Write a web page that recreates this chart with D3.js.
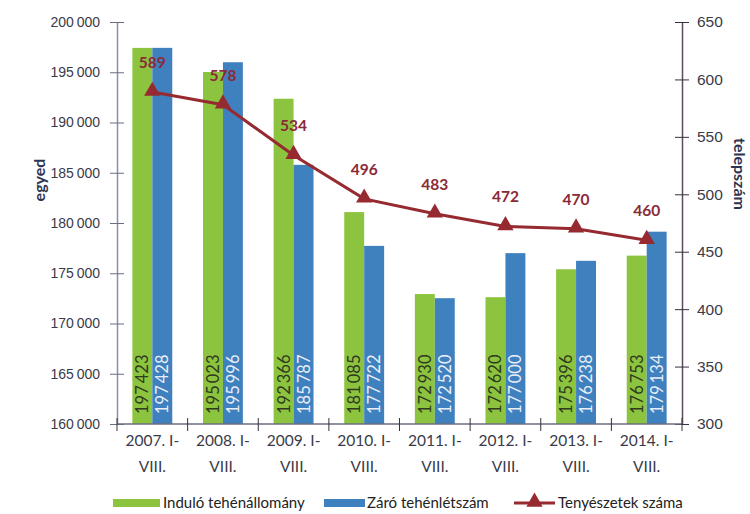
<!DOCTYPE html>
<html lang="hu">
  <head>
    <meta charset="UTF-8" />
    <title>Tehénállomány</title>
    <style>
      body { margin: 0; background: #fff; }
      svg { font-family: Lato, "Open Sans", sans-serif; }
      .axis text { fill: #3a3a4a; font-size: 14px; }
      .cat text { font-size: 15.5px; }
    </style>
  </head>
  <body>
    <script src="https://cdn.jsdelivr.net/npm/d3@7/dist/d3.min.js"></script>
    <script>
      // data
      var years = ["2007", "2008", "2009", "2010", "2011", "2012", "2013", "2014"];
      var indulo = [197423, 195023, 192366, 181085, 172930, 172620, 175396, 176753];
      var zaro = [197428, 195996, 185787, 177722, 172520, 177000, 176238, 179134];
      var telepek = [589, 578, 534, 496, 483, 472, 470, 460];
      var leftTicks = [160000, 165000, 170000, 175000, 180000, 185000, 190000, 195000, 200000];
      var rightTicks = [300, 350, 400, 450, 500, 550, 600, 650];

      var w = 750, h = 514;
      var margin = { top: 22, left: 117, right: 68, bottom: 90 };

      var green = "#8dc43f", blue = "#3f80bf", red = "#962a30";

      var svg = d3.select("body").append("svg")
                  .attr("width", w)
                  .attr("height", h);

      var hu = d3.formatLocale({ decimal: ",", thousands: "\u2009", grouping: [3], currency: ["", " Ft"] });
      var fmt = hu.format(",d");

      var xScale = d3.scaleBand()
                     .domain(years)
                     .range([margin.left, w - margin.right]);

      var xSub = d3.scaleBand()
                   .domain(["indulo", "zaro"])
                   .range([0, xScale.bandwidth()])
                   .paddingOuter(0.77);

      var yLeft = d3.scaleLinear()
                    .domain([160000, 200000])
                    .range([h - margin.bottom, margin.top]);

      var yRight = d3.scaleLinear()
                     .domain([300, 650])
                     .range([h - margin.bottom, margin.top]);

      var rows = years.map(function(y, i) {
        return { year: y, indulo: indulo[i], zaro: zaro[i], telep: telepek[i] };
      });

      // bars
      var groups = svg.append("g").selectAll("g")
                      .data(rows)
                      .enter().append("g")
                      .attr("transform", function(d) { return "translate(" + xScale(d.year) + ",0)"; });

      [["indulo", green, "#2f3a20"], ["zaro", blue, "#e8eef8"]].forEach(function(s) {
        groups.append("rect")
              .attr("x", xSub(s[0]))
              .attr("width", xSub.bandwidth())
              .attr("y", function(d) { return yLeft(d[s[0]]); })
              .attr("height", function(d) { return yLeft(160000) - yLeft(d[s[0]]); })
              .attr("fill", s[1]);

        groups.append("text")
              .attr("transform", function() {
                return "translate(" + (xSub(s[0]) + xSub.bandwidth() / 2 + 6) + "," + (yLeft(160000) - 10) + ") rotate(-90)";
              })
              .attr("font-size", "16.5px")
              .attr("fill", s[2])
              .text(function(d) { return fmt(d[s[0]]); });
      });

      // axes
      var leftAxis = d3.axisLeft(yLeft).tickValues(leftTicks).tickFormat(fmt).tickSize(0).tickPadding(17);
      var gl = svg.append("g").attr("class", "axis")
                  .attr("transform", "translate(" + margin.left + ",0)")
                  .call(leftAxis);
      gl.select(".domain").attr("stroke", "#8391a8").attr("stroke-width", 1.5);
      gl.selectAll(".tick").append("line").attr("x1", -7).attr("x2", 7).attr("stroke", "#6a6f80");

      var rightAxis = d3.axisRight(yRight).tickValues(rightTicks).tickSize(0).tickPadding(15);
      var gr = svg.append("g").attr("class", "axis")
                  .attr("transform", "translate(" + (w - margin.right) + ",0)")
                  .call(rightAxis);
      gr.select(".domain").attr("stroke", "#5e4a5e").attr("stroke-width", 1.5);
      gr.selectAll(".tick").append("line").attr("x1", -7).attr("x2", 7).attr("stroke", "#3a3040");
      gr.selectAll(".tick text").style("font-size", "15.5px");

      var gb = svg.append("g").attr("class", "axis cat")
                  .attr("transform", "translate(0," + yLeft(160000) + ")");
      gb.append("line")
        .attr("x1", margin.left).attr("x2", w - margin.right)
        .attr("stroke", "#6a6f80").attr("stroke-width", 1.5);
      gb.selectAll(".sep")
        .data(years.concat(["end"]))
        .enter().append("line")
        .attr("x1", function(d, i) { return margin.left + i * xScale.step(); })
        .attr("x2", function(d, i) { return margin.left + i * xScale.step(); })
        .attr("y1", -6).attr("y2", 7)
        .attr("stroke", "#3a3040");

      var cat = gb.selectAll(".cat")
                  .data(years)
                  .enter().append("text")
                  .attr("text-anchor", "middle")
                  .attr("x", function(d) { return xScale(d) + xScale.bandwidth() / 2; });
      cat.append("tspan").attr("y", 22).text(function(d) { return d + ". I-"; });
      cat.append("tspan")
         .attr("x", function(d) { return xScale(d) + xScale.bandwidth() / 2; })
         .attr("y", 48).text("VIII.");

      // axis titles
      svg.append("text")
         .attr("transform", "translate(45,180) rotate(-90)")
         .attr("text-anchor", "middle")
         .attr("font-size", "16px")
         .attr("font-weight", "bold")
         .attr("fill", "#2e3450")
         .text("egyed");

      svg.append("text")
         .attr("transform", "translate(734,174) rotate(90)")
         .attr("text-anchor", "middle")
         .attr("font-size", "16px")
         .attr("font-weight", "bold")
         .attr("fill", "#2e3450")
         .text("telepszám");

      // line
      var cx = function(d) { return xScale(d.year) + xScale.bandwidth() / 2; };
      var line = d3.line()
                   .x(cx)
                   .y(function(d) { return yRight(d.telep); });

      svg.append("path")
         .datum(rows)
         .attr("d", line)
         .attr("fill", "none")
         .attr("stroke", red)
         .attr("stroke-width", 3);

      var tri = d3.symbol().type(d3.symbolTriangle).size(115);
      svg.append("g").selectAll("path")
         .data(rows)
         .enter().append("path")
         .attr("d", tri)
         .attr("fill", red)
         .attr("transform", function(d) { return "translate(" + cx(d) + "," + (yRight(d.telep) - 1) + ")"; });

      svg.append("g").selectAll("text")
         .data(rows)
         .enter().append("text")
         .attr("x", cx)
         .attr("y", function(d) { return yRight(d.telep) - 24; })
         .attr("text-anchor", "middle")
         .attr("font-size", "15.5px")
         .attr("font-weight", "bold")
         .attr("fill", "#8a2a36")
         .text(function(d) { return d.telep; });

      // legend
      var leg = svg.append("g").attr("transform", "translate(0,503)").attr("font-size", "15px").attr("fill", "#222");
      leg.append("rect").attr("x", 113).attr("y", -4).attr("width", 47).attr("height", 8).attr("fill", green);
      leg.append("text").attr("x", 163).attr("y", 5).text("Induló tehénállomány");
      leg.append("rect").attr("x", 324).attr("y", -4).attr("width", 41).attr("height", 8).attr("fill", blue);
      leg.append("text").attr("x", 367).attr("y", 5).text("Záró tehénlétszám");
      leg.append("line").attr("x1", 514).attr("x2", 555).attr("stroke", red).attr("stroke-width", 3);
      leg.append("path").attr("d", tri).attr("fill", red).attr("transform", "translate(534.5,-1)");
      leg.append("text").attr("x", 558).attr("y", 5).text("Tenyészetek száma");
    </script>
  </body>
</html>
